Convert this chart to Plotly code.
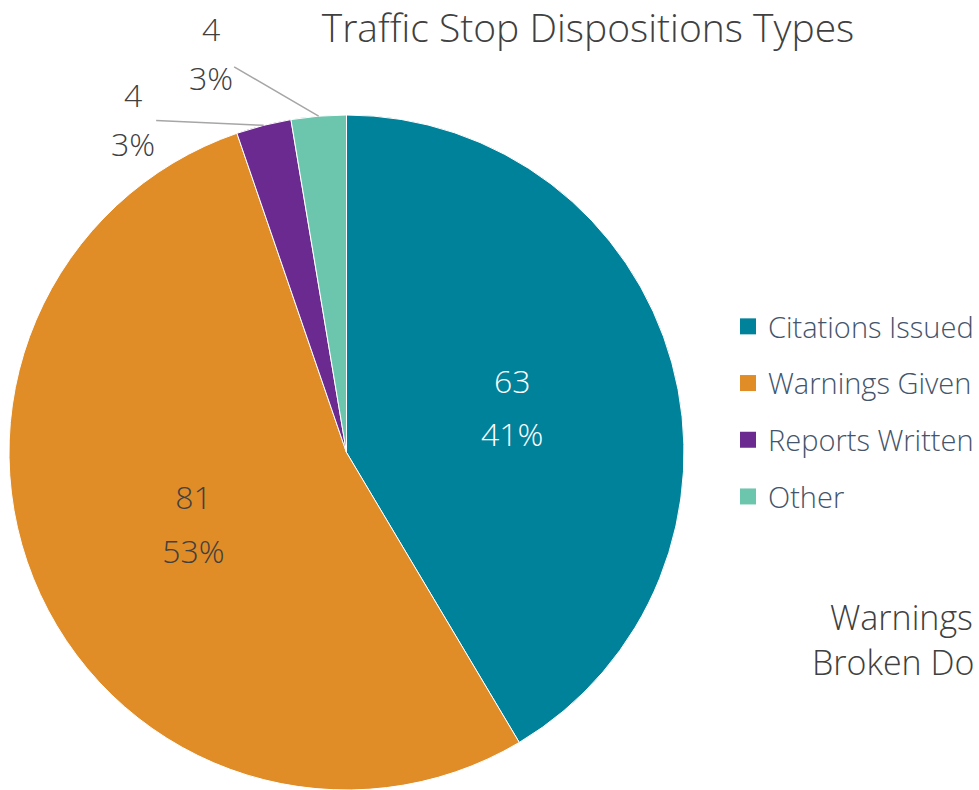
import math
import plotly.graph_objects as go

# ---- data ----
labels = ["Citations Issued", "Warnings Given", "Reports Written", "Other"]
values = [63, 81, 4, 4]
colors = ["#00829B", "#E08C27", "#6B2A8F", "#6CC5AD"]
title_text = "Traffic Stop Dispositions Types"
side_title_lines = ["Warnings", "Broken Do"]

W, H = 979, 790
FONT = "Open Sans"
dom_x = [8 / W, 685 / W]
dom_y = [0.0, 1 - 115 / H]

total = sum(values)
small = [v / total < 0.05 for v in values]
G = "font-size:32px"
templates = ["" if s else f"<span style='{G}'>%{{value}}</span><br><span style='{G}'>%{{percent:.0%}}</span>"
             for s in small]
inside_colors = ["#FFFFFF", "#404040", "#FFFFFF", "#404040"]

fig = go.Figure()
fig.add_trace(go.Pie(
    labels=labels, values=values, sort=False, direction="clockwise", rotation=0,
    marker=dict(colors=colors, line=dict(color="#FFFFFF", width=1)),
    texttemplate=templates, textposition="inside", insidetextorientation="horizontal",
    insidetextfont=dict(family=FONT, size=41, color=inside_colors, weight=300),
    domain=dict(x=dom_x, y=dom_y), showlegend=False, hoverinfo="label+value+percent",
))

# legend entries (same labels / colors)
for lab, col in zip(labels, colors):
    fig.add_trace(go.Scatter(
        x=[None], y=[None], mode="markers", name=lab, legendgroup=lab,
        marker=dict(symbol="square", size=20, color=col), showlegend=True,
    ))

# outside labels with leader lines for small slices
Wd = (dom_x[1] - dom_x[0]) * W
Hd = (dom_y[1] - dom_y[0]) * H
r_px = min(Wd, Hd) / 2
cx = (dom_x[0] + dom_x[1]) / 2
cy = (dom_y[0] + dom_y[1]) / 2
offsets = {2: (-131, -6), 3: (-108, -63)}
cum = 0
for i, v in enumerate(values):
    mid = (cum + v / 2) / total * 2 * math.pi
    cum += v
    if not small[i]:
        continue
    px = cx + r_px * math.sin(mid) / W
    py = cy + r_px * math.cos(mid) / H
    ax, ay = offsets[i]
    fig.add_annotation(
        x=px, y=py, xref="paper", yref="paper", ax=ax, ay=ay,
        text=f"<span style='{G}'>{v}</span><br><span style='{G}'>{round(100 * v / total)}%</span>",
        showarrow=True, arrowhead=0, arrowwidth=1.5, arrowcolor="#A6A6A6",
        font=dict(family=FONT, size=38, color="#404040", weight=300),
    )

# partially visible neighbouring chart title
for k, (t, x1) in enumerate(zip(side_title_lines, [975, 976])):
    fig.add_annotation(
        x=x1 / W, y=1 - (617 + 45 * k) / H, xref="paper", yref="paper",
        xanchor="right", yanchor="middle", text=t, showarrow=False,
        font=dict(family=FONT, size=34, color="#404040", weight=300),
    )

fig.update_layout(
    width=W, height=H, margin=dict(l=0, r=0, t=0, b=0),
    paper_bgcolor="#FFFFFF", plot_bgcolor="rgba(0,0,0,0)",
    title=dict(text=title_text, x=588 / W, xanchor="center", y=1 - 28 / H,
               yanchor="middle", font=dict(family=FONT, size=39, color="#404040", weight=300)),
    xaxis=dict(visible=False), yaxis=dict(visible=False),
    legend=dict(x=728 / W, y=1 - 301 / H, xanchor="left", yanchor="top",
                font=dict(family=FONT, size=29, color="#44546A", weight=300),
                tracegroupgap=16, itemsizing="trace", bgcolor="rgba(0,0,0,0)"),
)

fig.write_html("out.html", config={"displayModeBar": False},
               post_script="document.body.style.margin='0px';")
